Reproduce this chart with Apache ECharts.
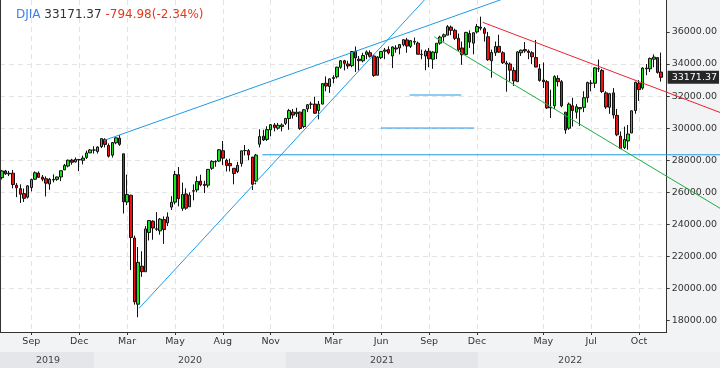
<!DOCTYPE html>
<html><head><meta charset="utf-8">
<script src="https://cdn.jsdelivr.net/npm/echarts@6/dist/echarts.min.js"></script>
<style>html,body{margin:0;padding:0;background:#fff}#c{width:720px;height:368px}</style>
</head><body><div id="c"></div>
<script>
// ---------- data (weekly DJIA candles, weeks starting on Sunday) ----------
const symbol = 'DJIA';
const lastPrice = 33171.37;
const change = -794.98;
const changePct = -2.34;
const firstWeek = '2019-07-07';

const opens = [
 26915,27330,27150,27196,26440,26230,25920,25700,26300,26820,27200,26950,26850,26520,26800,26810,26960,27400,27640,28010,27900,28050,28000,28180,28460,
 28640,28550,28850,29300,28920,28320,29090,29380,28402,25400,25820,23150,19028,21400,21050,23500,24200,23700,23600,24300,24100,25080,25390,27100,25000,25900,25100,26100,26150,26700,26500,26450,27500,27900,27950,28600,28000,27800,27500,27300,27800,28600,28600,28200,26700,29000,29500,29300,29900,30200,30000,30100,30300,
 30600,31000,30900,31000,30100,31200,31500,31500,31100,31500,32800,32600,33100,33200,33800,34200,34000,33900,34800,34300,34200,34600,34700,34500,33300,34400,34800,34900,34500,35000,35000,35200,35500,35100,35400,35300,34600,34500,34800,34300,34700,35300,35700,35800,36300,36100,35600,35000,34600,35900,35300,36000,
 36300,36200,35700,34200,34700,35100,34700,34000,34000,33600,32900,34700,34900,34800,34700,34400,33700,33000,32900,31300,31400,33100,32900,31000,30000,31400,31000,31200,31300,31900,32800,32800,33700,33600,32200,31300,32200,30800,29500,28800,29200,29700,31100,32800,32500,33700,33700,34300,34400,33500
];
const closes = [
 27332,27154,27192,26485,26287,25886,25628,26403,26797,27220,26935,26820,26573,26817,26770,26958,27347,27681,28005,27876,28051,28015,28135,28455,28645,
 28634,28823,29348,28990,28256,29103,29398,28992,25409,25864,23186,19174,21637,21053,23719,24242,23775,23724,24331,23685,24465,25383,27111,25606,25871,25016,25827,26075,26672,26470,26428,27433,27931,27930,28654,28133,27666,27657,27174,27683,28587,28606,28336,26502,28323,29480,29263,29910,30218,30046,30179,30200,30606,
 31098,30814,30997,29983,31148,31458,31494,30932,31496,32779,32628,33073,33153,33801,34200,34043,33875,34778,34382,34208,34529,34756,34480,33290,34434,34786,34870,34688,35062,34935,35209,35515,35120,35456,35369,34608,34584,34798,34326,34746,35295,35677,35820,36328,36100,35602,34899,34580,35971,35365,35951,36338,
 36232,35912,34265,34725,35090,34738,34079,34059,33615,32944,34755,34861,34818,34721,34451,33811,32977,32899,31262,31262,33213,32900,31393,29889,31501,31097,31338,31288,31899,32845,32803,33761,33707,32283,31318,32151,30822,29590,28725,29297,29635,31083,32862,32403,33748,33746,34347,34430,33476,33171.37
];
const lows = [
 26801,27086,27013,26249,25703,25339,25400,25619,26060,26780,26920,26690,25743,26160,26620,26720,26700,27390,27560,27720,27860,27325,27740,28080,28450,
 28420,28420,28760,28800,28170,28170,29000,28900,24681,25200,21154,19000,18214,20735,21050,23000,23050,23600,23360,22790,23900,24900,25250,25128,24843,24910,25100,25500,26000,26380,25950,26300,27400,27600,27900,27700,27300,27300,26500,27200,27600,28300,28000,26143,26500,28800,29200,29200,29500,29800,29900,29800,30200,
 29900,30600,30700,29900,30000,31000,31200,30900,30550,31500,32300,32200,32800,33100,33700,33600,33700,33800,33500,33600,34100,34300,34400,33200,33300,34300,34300,34600,33741,34700,34600,35100,34700,35000,35200,34600,34300,33613,33800,33700,34300,35200,35400,35800,35800,35500,34800,33952,34600,35000,34600,35900,
 36100,35400,34200,33150,34500,34700,34000,32272,32900,32632,32900,34500,34700,34300,34000,33800,32900,32500,31200,30635,31200,32600,31300,29653,29900,30100,30600,30143,31000,31600,32300,32500,33500,32200,31200,30900,30600,29500,28715,28700,28660,29700,30900,31700,32400,33300,33500,33800,33400,32900
];
const highs = [
 27388,27398,27335,27399,26580,26500,26240,26449,26860,27306,27306,27080,26998,26900,27120,26980,27350,27775,28036,28090,28175,28070,28290,28600,28700,
 28873,28872,29374,29373,29050,29133,29416,29569,28402,27102,25850,23300,22595,22327,23900,24264,24264,24765,24400,24500,24750,25758,27338,27580,26610,26250,26000,26500,27000,27100,26720,27455,28000,28000,28700,29200,28100,28100,27500,27900,28600,28950,28700,28200,28400,29933,29900,30117,30250,30320,30330,30300,30640,
 31200,31200,31270,31030,31200,31500,31650,31960,31700,32800,33227,33100,33300,33830,34250,34260,34200,34811,35091,34500,34700,34850,34850,34600,34500,34800,35000,35100,35100,35170,35250,35530,35630,35500,35650,35400,34900,34900,35000,34800,35300,35765,35900,36430,36400,36200,35900,35400,36000,36100,35960,36500,
 36952,36300,36000,34900,35400,35824,34800,34200,34100,33800,34800,34900,35372,34900,34800,35500,34000,34100,33000,32400,33300,33300,33000,31000,31600,31900,31500,31300,32300,32900,33000,33800,34281,33700,32300,32200,32500,31200,29800,30100,30200,31100,32900,33000,33800,34000,34400,34600,34400,34712
];

// month tick labels (weeks where a label is shown)
const tickWeeks = ['2019-09-01','2019-12-01','2020-03-01','2020-05-31','2020-08-30','2020-11-29',
                   '2021-03-28','2021-06-27','2021-09-26','2021-12-26','2022-05-01','2022-07-31','2022-10-30'];
const monthNames = ['Jan','Feb','Mar','Apr','May','Jun','Jul','Aug','Sep','Oct','Nov','Dec'];
const yTicks = [18000,20000,22000,24000,26000,28000,30000,32000,34000,36000];
const yMin = 17295, yMax = 37990;

// drawn trend lines: [weekIndex, value]
const upperBlue = [[27.7, 29235], [135.3, 38016]];
const steepBlue = [[37.2, 18775], [114.6, 38016]];
const shortBlue = [[110.5, 32068], [124.5, 32068]];
const midBlue = [[102.7, 30009], [128.0, 30009]];
const supportBlue = [[70.6, 28342], [200, 28342]];
const redTrend = [[130.3, 36599], [196, 30857]];
const greenTrend = [[117.2, 35688], [196, 24814]];

// ---------- build ----------
const emptySlots = 1;
const slotCount = closes.length + emptySlots;
const DAY = 864e5;
const t0 = Date.parse(firstWeek + 'T00:00:00Z');
const dates = [];
for (let i = 0; i < slotCount; i++) dates.push(new Date(t0 + i * 7 * DAY).toISOString().slice(0, 10));
const candles = opens.map((o, i) => [o, closes[i], lows[i], highs[i]]);
const tickSet = new Set(tickWeeks.map(d => dates.indexOf(d)));
const isTick = (idx) => tickSet.has(idx);

// year bands: boundary at the week containing Jan 1
const boundaries = [];
for (let i = 1; i < closes.length; i++) {
  const s = new Date(t0 + i * 7 * DAY), e = new Date(t0 + (i * 7 + 6) * DAY);
  if (e.getUTCFullYear() !== s.getUTCFullYear()) boundaries.push(i);
}
const chartW = 720, yAxisW = 52, xAxisH = 36;
const fullMax = -0.5 + chartW / ((chartW - yAxisW) / slotCount);
const bands = [];
let from = -0.5, fromLbl = 0, yr = +dates[0].slice(0, 4);
boundaries.forEach((b, j) => {
  bands.push([from, b, (fromLbl + b) / 2, yr, j % 2]);
  from = b; fromLbl = b; yr = +dates[b + 1].slice(0, 4);
});
bands.push([from, fullMax, (fromLbl + closes.length - 1) / 2, yr, boundaries.length % 2]);

const gridLine = { color: '#e3e3e3', type: [5, 4], width: 1 };
const lineSeries = (data, color) => ({
  type: 'line', xAxisIndex: 2, yAxisIndex: 3, data, showSymbol: false, symbol: 'none',
  clip: true, silent: true, z: 5, lineStyle: { color, width: 1 }
});

const chart = echarts.init(document.getElementById('c'), null, { renderer: 'canvas' });
chart.setOption({
  animation: false,
  backgroundColor: '#f2f3f5',
  textStyle: { fontFamily: 'DejaVu Sans' },
  title: {
    left: 11, top: 4,
    text: `{n|${symbol}} {p|${lastPrice.toFixed(2)}} {c|${change.toFixed(2)}(${changePct.toFixed(2)}%)}`,
    textStyle: {
      fontSize: 12, fontWeight: 'normal', color: '#333',
      rich: {
        n: { color: '#3f7fe8', fontSize: 12 },
        p: { color: '#333333', fontSize: 12 },
        c: { color: '#e2391d', fontSize: 12 }
      }
    }
  },
  grid: [
    { left: 0, right: yAxisW, top: 0, bottom: xAxisH, show: true, backgroundColor: '#ffffff', borderWidth: 0 },
    { left: 0, right: 0, top: 352, bottom: 0 },
    { left: 0, right: 0, top: 0, bottom: xAxisH }
  ],
  xAxis: [
    {
      type: 'category', gridIndex: 0, data: dates, boundaryGap: true,
      axisLine: { lineStyle: { color: '#333' } },
      axisTick: { show: true, length: 3, alignWithLabel: true, interval: isTick, lineStyle: { color: '#333' } },
      axisLabel: {
        interval: isTick, color: '#333', fontSize: 9.5, margin: 5,
        formatter: (v) => monthNames[+v.slice(5, 7) - 1]
      },
      splitLine: { show: true, interval: isTick, alignWithLabel: true, lineStyle: gridLine }
    },
    { type: 'value', gridIndex: 1, min: -0.5, max: fullMax, show: false },
    { type: 'value', gridIndex: 2, min: -0.5, max: fullMax, show: false }
  ],
  yAxis: [
    {
      type: 'value', gridIndex: 0, position: 'right', min: yMin, max: yMax, splitNumber: 10,
      axisLine: { show: true, lineStyle: { color: '#333' } },
      axisTick: { show: true, length: 3, customValues: yTicks, lineStyle: { color: '#333' } },
      axisLabel: { customValues: yTicks, formatter: (v) => v.toFixed(2), color: '#333', fontSize: 9.5, margin: 5 },
      splitLine: { show: true, showMinLine: false, showMaxLine: false, lineStyle: gridLine }
    },
    {
      type: 'value', gridIndex: 0, position: 'left', min: 0, max: 1,
      axisLine: { show: true, lineStyle: { color: '#333' } },
      axisTick: { show: false }, axisLabel: { show: false }, splitLine: { show: false }
    },
    { type: 'value', gridIndex: 1, min: 0, max: 1, show: false },
    { type: 'value', gridIndex: 2, min: yMin, max: yMax, show: false }
  ],
  series: [
    {
      type: 'candlestick', xAxisIndex: 0, yAxisIndex: 0, data: candles, barWidth: 3,
      itemStyle: { color: '#17e117', color0: '#f01212', borderColor: '#111', borderColor0: '#111', borderWidth: 1 },
      markLine: {
        silent: true, symbol: 'none', animation: false,
        lineStyle: { color: 'rgba(0,0,0,0)', width: 1 },
        label: {
          show: true, position: 'end', distance: 1, formatter: () => lastPrice.toFixed(2),
          color: '#fff', backgroundColor: '#262626', padding: [2, 2, 1, 4], fontSize: 9.5
        },
        data: [{ yAxis: lastPrice }]
      }
    },
    lineSeries(upperBlue, '#1e9be6'),
    lineSeries(steepBlue, '#1e9be6'),
    lineSeries(shortBlue, '#1e9be6'),
    lineSeries(midBlue, '#1e9be6'),
    lineSeries(supportBlue, '#1e9be6'),
    lineSeries(redTrend, '#ee2230'),
    lineSeries(greenTrend, '#1fae3e'),
    {
      type: 'custom', xAxisIndex: 1, yAxisIndex: 2, silent: true, data: bands,
      renderItem: (params, api) => {
        const a = api.coord([api.value(0), 1]);
        const b = api.coord([api.value(1), 0]);
        const m = api.coord([api.value(2), 0.5]);
        return {
          type: 'group', children: [
            { type: 'rect', shape: { x: a[0], y: a[1], width: b[0] - a[0], height: b[1] - a[1] },
              style: { fill: api.value(4) === 0 ? '#e5e6e9' : '#eeeff1' } },
            { type: 'text', x: m[0], y: m[1] + 1,
              style: { text: String(api.value(3)), fill: '#444', font: '9.5px "DejaVu Sans"', align: 'center', verticalAlign: 'middle' } }
          ]
        };
      }
    }
  ]
});
</script></body></html>
